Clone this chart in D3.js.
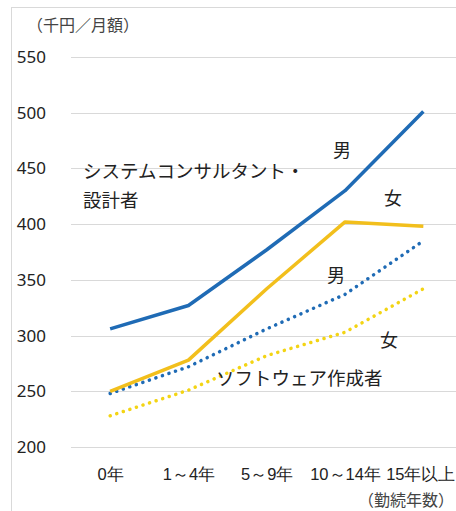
<!DOCTYPE html>
<html><head><meta charset="utf-8">
<script src="https://cdn.jsdelivr.net/npm/d3@7/dist/d3.min.js"></script>
<style>
html,body{margin:0;padding:0;background:#fff;overflow:hidden}
svg{display:block;font-family:"Noto Sans CJK JP","Noto Sans",sans-serif}
</style></head><body>
<script>
const categories = ["0年","1～4年","5～9年","10～14年","15年以上"];
const sysMale   = [306, 327, 377, 430, 501];
const sysFemale = [250, 278, 342, 402, 398];
const swMale    = [248, 272, 306, 337, 385];
const swFemale  = [228, 251, 282, 303, 342];
const yTicks = [200, 250, 300, 350, 400, 450, 500, 550];

const W = 456, H = 511;
const svg = d3.select("body").append("svg").attr("width", W).attr("height", H);

// frame
svg.append("line").attr("x1",11).attr("x2",W).attr("y1",7.5).attr("y2",7.5).attr("stroke","#d9d9d9");
svg.append("line").attr("x1",11.5).attr("x2",11.5).attr("y1",7).attr("y2",H).attr("stroke","#d9d9d9");

const x = d3.scalePoint().domain(categories).range([71, 462.5]).padding(0.5);
const y = d3.scaleLinear().domain([200, 550]).range([447, 57]);

// gridlines
svg.append("g").selectAll("line").data(yTicks).join("line")
  .attr("x1",71).attr("x2",W).attr("y1",d=>Math.round(y(d))+0.5).attr("y2",d=>Math.round(y(d))+0.5)
  .attr("stroke","#d9d9d9").attr("stroke-width",1);

// y axis labels
const yAxis = d3.axisLeft(y).tickValues(yTicks).tickSize(0).tickPadding(0);
const gy = svg.append("g").attr("transform","translate(46,0)").call(yAxis);
gy.select(".domain").remove();
gy.selectAll("text").attr("font-size",17).attr("fill","#222")
  .attr("font-family","'Noto Sans','Noto Sans CJK JP',sans-serif").attr("text-anchor","end");

// x axis labels
const xAxis = d3.axisBottom(x).tickSize(0).tickPadding(0);
const gx = svg.append("g").attr("transform","translate(0,468)").call(xAxis);
gx.select(".domain").remove();
gx.selectAll("text").attr("font-size",16.5).attr("fill","#222");
// keep the last label inside the window
gx.selectAll(".tick").filter(d=>d===categories[categories.length-1]).select("text")
  .attr("text-anchor","end").attr("x", W - 1 - x(categories[categories.length-1]));

// lines
const line = d3.line().x((d,i)=>x(categories[i])).y(d=>y(d));
const series = [
  {v: sysMale,   c:"#1f6bb5", dot:false},
  {v: sysFemale, c:"#f2bf1c", dot:false},
  {v: swMale,    c:"#1f6bb5", dot:true},
  {v: swFemale,  c:"#f3d414", dot:true}
];
series.slice().reverse().forEach(s=>{
  svg.append("path").datum(s.v).attr("d",line).attr("fill","none")
    .attr("stroke",s.c).attr("stroke-width",3.5)
    .attr("stroke-linecap", s.dot ? "round" : "butt")
    .attr("stroke-linejoin","round")
    .attr("stroke-dasharray", s.dot ? "0.1 6.8" : null);
});

// annotations
const ann = svg.append("g").attr("fill","#222");
ann.append("text").attr("x",342).attr("y",157).attr("font-size",18).attr("text-anchor","middle").text("男");
ann.append("text").attr("x",393).attr("y",205).attr("font-size",18).attr("text-anchor","middle").text("女");
ann.append("text").attr("x",336).attr("y",282).attr("font-size",18).attr("text-anchor","middle").text("男");
ann.append("text").attr("x",389).attr("y",347).attr("font-size",18).attr("text-anchor","middle").text("女");
ann.append("text").attr("x",83).attr("y",178).attr("font-size",18.5).text("システムコンサルタント・");
ann.append("text").attr("x",83).attr("y",207).attr("font-size",18.5).text("設計者");
ann.append("text").attr("x",216).attr("y",385).attr("font-size",18.5).text("ソフトウェア作成者");

// unit labels
svg.append("text").attr("x",27).attr("y",31).attr("font-size",16).attr("fill","#444").text("（千円／月額）");
svg.append("text").attr("x",454).attr("y",506).attr("text-anchor","end").attr("font-size",16).attr("fill","#444").text("（勤続年数）");
</script>
</body></html>
